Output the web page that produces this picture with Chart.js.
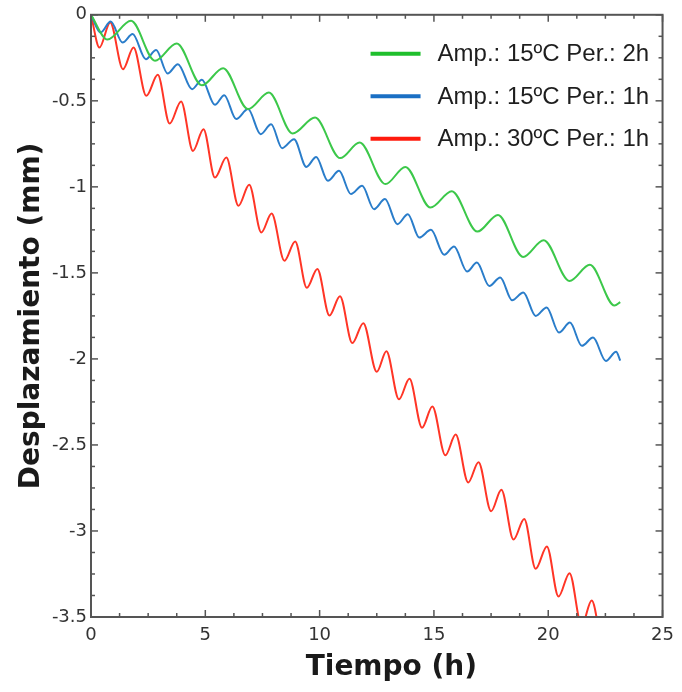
<!DOCTYPE html>
<html>
<head>
<meta charset="utf-8">
<script src="https://cdn.jsdelivr.net/npm/chart.js@4.4.0/dist/chart.umd.min.js"></script>
<style>
  html, body { margin: 0; padding: 0; background: #fff; }
  #wrap { width: 682px; height: 692px; }
</style>
</head>
<body>
<div id="wrap"><canvas id="grafico" width="682" height="692"></canvas></div>
<script>
// ---------------------------------------------------------------
// Dados (tempo em h, deslocamento em mm)
// ---------------------------------------------------------------
const legendLabels = ["Amp.: 15ºC Per.: 2h", "Amp.: 15ºC Per.: 1h", "Amp.: 30ºC Per.: 1h"];

const greenTime = [0, 0.72, 1.75, 2.8, 3.75, 4.85, 5.78, 6.87, 7.78, 8.82, 9.8, 10.9, 11.75, 12.88, 13.75, 14.85, 15.78, 16.9, 17.8, 18.9, 19.8, 20.93, 21.82, 22.9, 23.15];
const greenDisp = [0, -0.144, -0.035, -0.267, -0.167, -0.41, -0.31, -0.548, -0.452, -0.69, -0.597, -0.833, -0.742, -0.984, -0.884, -1.12, -1.025, -1.26, -1.163, -1.407, -1.31, -1.547, -1.453, -1.69, -1.67];

const blueTime = [0, 0.42, 0.86, 1.38, 1.82, 2.4, 2.85, 3.35, 3.8, 4.42, 4.85, 5.42, 5.83, 6.35, 6.87, 7.42, 7.88, 8.36, 8.88, 9.42, 9.85, 10.36, 10.85, 11.37, 11.86, 12.38, 12.86, 13.4, 13.86, 14.36, 14.87, 15.45, 15.88, 16.45, 16.88, 17.42, 17.9, 18.42, 18.91, 19.45, 19.93, 20.47, 20.95, 21.47, 21.96, 22.52, 22.97, 23.15];
const blueDisp = [0, -0.103, -0.039, -0.161, -0.112, -0.258, -0.205, -0.341, -0.287, -0.432, -0.378, -0.523, -0.467, -0.606, -0.548, -0.694, -0.636, -0.775, -0.723, -0.884, -0.826, -0.965, -0.907, -1.042, -0.994, -1.13, -1.071, -1.217, -1.159, -1.295, -1.25, -1.395, -1.347, -1.492, -1.44, -1.576, -1.527, -1.659, -1.614, -1.75, -1.701, -1.847, -1.789, -1.924, -1.876, -2.012, -1.958, -2.01];

const redTime = [0, 0.37, 0.84, 1.4, 1.86, 2.42, 2.92, 3.44, 3.94, 4.46, 4.92, 5.42, 5.92, 6.45, 6.92, 7.45, 7.9, 8.46, 8.93, 9.44, 9.9, 10.43, 10.89, 11.43, 11.91, 12.5, 12.92, 13.47, 13.93, 14.48, 14.93, 15.5, 15.95, 16.5, 16.95, 17.5, 17.95, 18.48, 18.95, 19.45, 19.94, 20.45, 20.93, 21.46, 21.9, 22.47, 22.93, 23.15];
const redDisp = [0, -0.19, -0.045, -0.316, -0.19, -0.471, -0.349, -0.632, -0.504, -0.791, -0.665, -0.946, -0.83, -1.11, -0.988, -1.265, -1.155, -1.429, -1.317, -1.587, -1.477, -1.748, -1.636, -1.908, -1.792, -2.075, -1.955, -2.235, -2.115, -2.4, -2.276, -2.56, -2.44, -2.718, -2.6, -2.885, -2.76, -3.05, -2.93, -3.22, -3.09, -3.381, -3.245, -3.55, -3.404, -3.715, -3.575, -3.63];

const xTicks = [0, 5, 10, 15, 20, 25];
const yTicks = [0, -0.5, -1, -1.5, -2, -2.5, -3, -3.5];

// ---------------------------------------------------------------
// Montar pontos {x, y}
// ---------------------------------------------------------------
const pontos = (xs, ys) => xs.map((t, i) => ({ x: t, y: ys[i] }));

// ---------------------------------------------------------------
// Moldura com marcas para dentro (4 lados)
// ---------------------------------------------------------------
const marcoPlugin = {
    id: "marco",
    afterDatasetsDraw(chart) {
        const { ctx, chartArea: a, scales: { x, y } } = chart;
        ctx.save();
        ctx.strokeStyle = "#555";
        ctx.lineWidth = 1.5;
        const seg = (x1, y1, x2, y2) => { ctx.beginPath(); ctx.moveTo(x1, y1); ctx.lineTo(x2, y2); ctx.stroke(); };
        for (let k = 0; k <= 20; k++) {
            const px = x.getPixelForValue(k * 1.25);
            const len = k % 4 === 0 ? 7 : 4;
            seg(px, a.bottom, px, a.bottom - len);
            seg(px, a.top, px, a.top + len);
        }
        for (let k = 0; k <= 28; k++) {
            const py = y.getPixelForValue(-k * 0.125);
            const len = k % 4 === 0 ? 7 : 4;
            seg(a.left, py, a.left + len, py);
            seg(a.right, py, a.right - len, py);
        }
        ctx.lineWidth = 2;
        ctx.strokeRect(a.left, a.top, a.right - a.left, a.bottom - a.top);
        ctx.restore();
    }
};

// ---------------------------------------------------------------
// Legenda dentro do gráfico (canto superior direito)
// ---------------------------------------------------------------
const legendaPlugin = {
    id: "legenda",
    afterDraw(chart) {
        const { ctx, chartArea: a } = chart;
        ctx.save();
        ctx.font = '24px "Liberation Sans", Arial, sans-serif';
        ctx.textBaseline = "middle";
        chart.data.datasets.forEach((ds, i) => {
            const yy = a.top + 39 + i * 42.5;
            const x0 = a.right - 292;
            ctx.strokeStyle = ds.legendColor;
            ctx.lineWidth = 4;
            ctx.beginPath();
            ctx.moveTo(x0, yy);
            ctx.lineTo(x0 + 50, yy);
            ctx.stroke();
            ctx.fillStyle = "#1e1e1e";
            ctx.fillText(ds.label, x0 + 67, yy + 1);
        });
        ctx.restore();
    }
};

const tickFont = { family: "'DejaVu Sans', Verdana, sans-serif", size: 18 };
const titleFont = { family: "'DejaVu Sans', Verdana, sans-serif", size: 28, weight: "bold" };

new Chart(document.getElementById("grafico"), {
    type: "line",
    data: {
        datasets: [
            { label: legendLabels[0], data: pontos(greenTime, greenDisp), borderColor: "#3cc84a", legendColor: "#1fbf2c" },
            { label: legendLabels[1], data: pontos(blueTime, blueDisp), borderColor: "#2a7dca", legendColor: "#1a6fc4" },
            { label: legendLabels[2], data: pontos(redTime, redDisp), borderColor: "#ff3526", legendColor: "#ff1a0d" }
        ].map(ds => Object.assign(ds, {
            borderWidth: 2,
            pointRadius: 0,
            fill: false,
            cubicInterpolationMode: "monotone"
        }))
    },
    options: {
        responsive: false,
        animation: false,
        layout: { padding: { top: 13, right: 17, left: 0, bottom: 0 } },
        plugins: { legend: { display: false }, tooltip: { enabled: false } },
        scales: {
            x: {
                type: "linear",
                min: 0,
                max: 25,
                afterBuildTicks: s => { s.ticks = xTicks.map(v => ({ value: v })); },
                afterFit: s => { s.height = 75; },
                grid: { display: false, drawTicks: false },
                border: { display: false },
                ticks: { font: tickFont, color: "#333", padding: 8, maxRotation: 0, callback: v => String(v) },
                title: { display: true, text: "\u00a0\u00a0\u00a0Tiempo (h)", font: titleFont, color: "#1a1a1a", padding: { top: 0, bottom: 7 } }
            },
            y: {
                type: "linear",
                min: -3.5,
                max: 0,
                afterBuildTicks: s => { s.ticks = yTicks.map(v => ({ value: v })); },
                afterFit: s => { s.width = 91; },
                grid: { display: false, drawTicks: false },
                border: { display: false },
                ticks: { font: tickFont, color: "#333", padding: 4, callback: v => String(v) },
                title: { display: true, text: "Desplazamiento (mm)", font: titleFont, color: "#1a1a1a", padding: { top: 15, bottom: 0 } }
            }
        }
    },
    plugins: [marcoPlugin, legendaPlugin]
});
</script>
</body>
</html>
